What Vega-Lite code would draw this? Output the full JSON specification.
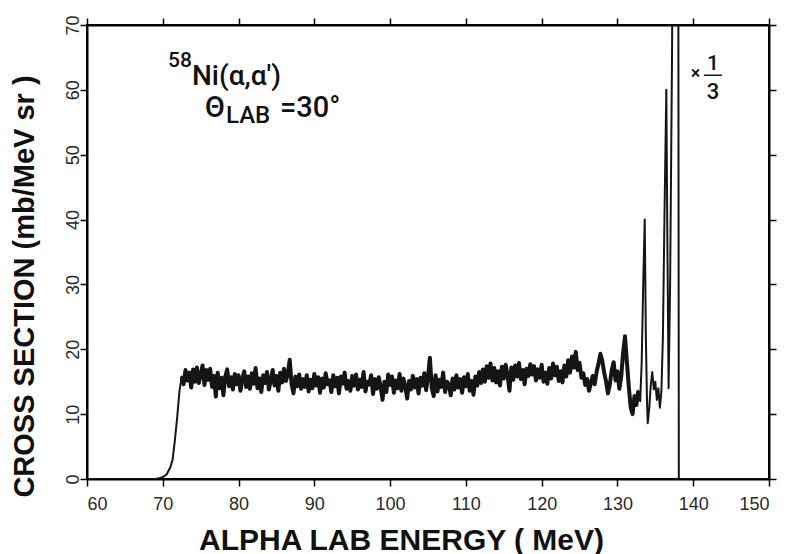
{
  "$schema": "https://vega.github.io/schema/vega-lite/v6.json",
  "width": 682,
  "height": 454,
  "autosize": {"type": "none"},
  "padding": {"left": 87, "top": 25, "right": 26, "bottom": 75},
  "background": "white",
  "config": {
    "view": {"stroke": "black", "strokeWidth": 2},
    "axis": {
      "domainColor": "black", "domainWidth": 2,
      "tickColor": "black", "tickWidth": 1.5, "tickSize": 7,
      "labelFont": "Liberation Sans", "labelFontSize": 18, "labelColor": "#2a2a2a",
      "titleFont": "Liberation Sans", "titleFontWeight": "bold", "titleColor": "#111",
      "grid": false
    },
    "text": {"fontWeight": 500, "font": "Roboto", "color": "#111111"}
  },
  "datasets": {
    "spectrum": [
    {"energy": 60.0, "sigma": 0}, {"energy": 66.0, "sigma": 0}, {"energy": 69.0, "sigma": 0},
    {"energy": 69.5, "sigma": 0.1}, {"energy": 70.0, "sigma": 0.3}, {"energy": 70.5, "sigma": 0.7},
    {"energy": 71.0, "sigma": 1.8}, {"energy": 71.3, "sigma": 3.0}, {"energy": 71.6, "sigma": 6.0},
    {"energy": 71.9, "sigma": 9.5}, {"energy": 72.2, "sigma": 13.5}, {"energy": 72.5, "sigma": 15.8},
    {"energy": 72.75, "sigma": 14.6}, {"energy": 73.0, "sigma": 16.8}, {"energy": 73.25, "sigma": 15.2},
    {"energy": 73.5, "sigma": 16.4}, {"energy": 73.75, "sigma": 14.1}, {"energy": 74.0, "sigma": 16.9},
    {"energy": 74.25, "sigma": 15.0}, {"energy": 74.5, "sigma": 17.2}, {"energy": 74.75, "sigma": 14.8},
    {"energy": 75.0, "sigma": 16.1}, {"energy": 75.25, "sigma": 17.5}, {"energy": 75.5, "sigma": 14.5},
    {"energy": 75.75, "sigma": 16.8}, {"energy": 76.0, "sigma": 15.3}, {"energy": 76.25, "sigma": 17.0},
    {"energy": 76.5, "sigma": 14.2}, {"energy": 76.75, "sigma": 15.9}, {"energy": 77.0, "sigma": 12.7},
    {"energy": 77.25, "sigma": 16.4}, {"energy": 77.5, "sigma": 14.0}, {"energy": 77.75, "sigma": 15.6},
    {"energy": 78.0, "sigma": 12.9}, {"energy": 78.25, "sigma": 15.8}, {"energy": 78.5, "sigma": 16.9},
    {"energy": 78.75, "sigma": 14.3}, {"energy": 79.0, "sigma": 15.7}, {"energy": 79.25, "sigma": 13.8},
    {"energy": 79.5, "sigma": 16.2}, {"energy": 79.75, "sigma": 14.6}, {"energy": 80.0, "sigma": 16.0},
    {"energy": 80.25, "sigma": 13.6}, {"energy": 80.5, "sigma": 15.4}, {"energy": 80.75, "sigma": 16.6},
    {"energy": 81.0, "sigma": 14.2}, {"energy": 81.25, "sigma": 15.8}, {"energy": 81.5, "sigma": 13.9},
    {"energy": 81.75, "sigma": 16.3}, {"energy": 82.0, "sigma": 14.7}, {"energy": 82.25, "sigma": 17.1},
    {"energy": 82.5, "sigma": 14.0}, {"energy": 82.75, "sigma": 15.5}, {"energy": 83.0, "sigma": 13.4},
    {"energy": 83.25, "sigma": 16.0}, {"energy": 83.5, "sigma": 14.8}, {"energy": 83.75, "sigma": 16.5},
    {"energy": 84.0, "sigma": 13.8}, {"energy": 84.25, "sigma": 15.2}, {"energy": 84.5, "sigma": 16.8},
    {"energy": 84.75, "sigma": 14.4}, {"energy": 85.0, "sigma": 15.9}, {"energy": 85.25, "sigma": 13.6},
    {"energy": 85.5, "sigma": 16.4}, {"energy": 85.75, "sigma": 14.9}, {"energy": 86.0, "sigma": 17.0},
    {"energy": 86.25, "sigma": 15.1}, {"energy": 86.5, "sigma": 16.2}, {"energy": 86.75, "sigma": 18.4},
    {"energy": 87.0, "sigma": 14.6}, {"energy": 87.25, "sigma": 13.2}, {"energy": 87.5, "sigma": 15.8},
    {"energy": 87.75, "sigma": 14.3}, {"energy": 88.0, "sigma": 16.1}, {"energy": 88.25, "sigma": 13.9},
    {"energy": 88.5, "sigma": 15.4}, {"energy": 88.75, "sigma": 14.2}, {"energy": 89.0, "sigma": 16.0},
    {"energy": 89.25, "sigma": 13.5}, {"energy": 89.5, "sigma": 15.3}, {"energy": 89.75, "sigma": 14.0},
    {"energy": 90.0, "sigma": 16.2}, {"energy": 90.25, "sigma": 14.4}, {"energy": 90.5, "sigma": 15.7},
    {"energy": 90.75, "sigma": 13.3}, {"energy": 91.0, "sigma": 15.5}, {"energy": 91.25, "sigma": 14.1},
    {"energy": 91.5, "sigma": 16.3}, {"energy": 91.75, "sigma": 14.6}, {"energy": 92.0, "sigma": 15.2},
    {"energy": 92.25, "sigma": 13.4}, {"energy": 92.5, "sigma": 16.0}, {"energy": 92.75, "sigma": 14.3},
    {"energy": 93.0, "sigma": 15.6}, {"energy": 93.25, "sigma": 13.2}, {"energy": 93.5, "sigma": 15.8},
    {"energy": 93.75, "sigma": 14.7}, {"energy": 94.0, "sigma": 16.4}, {"energy": 94.25, "sigma": 13.9},
    {"energy": 94.5, "sigma": 15.1}, {"energy": 94.75, "sigma": 13.6}, {"energy": 95.0, "sigma": 15.9},
    {"energy": 95.25, "sigma": 14.4}, {"energy": 95.5, "sigma": 16.1}, {"energy": 95.75, "sigma": 13.8},
    {"energy": 96.0, "sigma": 15.3}, {"energy": 96.25, "sigma": 14.2}, {"energy": 96.5, "sigma": 16.5},
    {"energy": 96.75, "sigma": 13.5}, {"energy": 97.0, "sigma": 15.0}, {"energy": 97.25, "sigma": 14.6},
    {"energy": 97.5, "sigma": 16.0}, {"energy": 97.75, "sigma": 13.1}, {"energy": 98.0, "sigma": 15.4},
    {"energy": 98.25, "sigma": 13.9}, {"energy": 98.5, "sigma": 15.7}, {"energy": 98.75, "sigma": 14.2},
    {"energy": 99.0, "sigma": 12.2}, {"energy": 99.25, "sigma": 15.0}, {"energy": 99.5, "sigma": 13.4},
    {"energy": 99.75, "sigma": 16.1}, {"energy": 100.0, "sigma": 14.5}, {"energy": 100.25, "sigma": 15.8},
    {"energy": 100.5, "sigma": 13.3}, {"energy": 100.75, "sigma": 15.2}, {"energy": 101.0, "sigma": 14.0},
    {"energy": 101.25, "sigma": 16.2}, {"energy": 101.5, "sigma": 13.6}, {"energy": 101.75, "sigma": 15.5},
    {"energy": 102.0, "sigma": 14.3}, {"energy": 102.25, "sigma": 12.4}, {"energy": 102.5, "sigma": 15.1},
    {"energy": 102.75, "sigma": 13.8}, {"energy": 103.0, "sigma": 15.9}, {"energy": 103.25, "sigma": 14.1},
    {"energy": 103.5, "sigma": 15.4}, {"energy": 103.75, "sigma": 13.2}, {"energy": 104.0, "sigma": 15.6},
    {"energy": 104.25, "sigma": 14.4}, {"energy": 104.5, "sigma": 16.3}, {"energy": 104.75, "sigma": 13.7},
    {"energy": 105.0, "sigma": 15.8}, {"energy": 105.25, "sigma": 18.7}, {"energy": 105.5, "sigma": 14.0},
    {"energy": 105.75, "sigma": 12.8}, {"energy": 106.0, "sigma": 16.0}, {"energy": 106.25, "sigma": 13.5},
    {"energy": 106.5, "sigma": 15.3}, {"energy": 106.75, "sigma": 14.2}, {"energy": 107.0, "sigma": 16.4},
    {"energy": 107.25, "sigma": 13.4}, {"energy": 107.5, "sigma": 15.0}, {"energy": 107.75, "sigma": 14.6},
    {"energy": 108.0, "sigma": 12.9}, {"energy": 108.25, "sigma": 15.5}, {"energy": 108.5, "sigma": 13.8},
    {"energy": 108.75, "sigma": 16.0}, {"energy": 109.0, "sigma": 14.1}, {"energy": 109.25, "sigma": 15.4},
    {"energy": 109.5, "sigma": 13.3}, {"energy": 109.75, "sigma": 15.7}, {"energy": 110.0, "sigma": 14.3},
    {"energy": 110.25, "sigma": 16.2}, {"energy": 110.5, "sigma": 13.6}, {"energy": 110.75, "sigma": 15.1},
    {"energy": 111.0, "sigma": 13.0}, {"energy": 111.25, "sigma": 15.8}, {"energy": 111.5, "sigma": 14.4},
    {"energy": 111.75, "sigma": 16.5}, {"energy": 112.0, "sigma": 14.8}, {"energy": 112.25, "sigma": 16.9},
    {"energy": 112.5, "sigma": 15.0}, {"energy": 112.75, "sigma": 17.4}, {"energy": 113.0, "sigma": 15.6},
    {"energy": 113.25, "sigma": 17.8}, {"energy": 113.5, "sigma": 15.2}, {"energy": 113.75, "sigma": 17.1},
    {"energy": 114.0, "sigma": 14.9}, {"energy": 114.25, "sigma": 16.6}, {"energy": 114.5, "sigma": 14.4},
    {"energy": 114.75, "sigma": 17.3}, {"energy": 115.0, "sigma": 15.5}, {"energy": 115.25, "sigma": 17.6},
    {"energy": 115.5, "sigma": 16.0}, {"energy": 115.75, "sigma": 13.6}, {"energy": 116.0, "sigma": 17.2},
    {"energy": 116.25, "sigma": 15.3}, {"energy": 116.5, "sigma": 17.5}, {"energy": 116.75, "sigma": 15.8},
    {"energy": 117.0, "sigma": 17.9}, {"energy": 117.25, "sigma": 15.4}, {"energy": 117.5, "sigma": 16.8},
    {"energy": 117.75, "sigma": 14.6}, {"energy": 118.0, "sigma": 17.0}, {"energy": 118.25, "sigma": 15.9},
    {"energy": 118.5, "sigma": 17.7}, {"energy": 118.75, "sigma": 16.1}, {"energy": 119.0, "sigma": 17.4},
    {"energy": 119.25, "sigma": 15.2}, {"energy": 119.5, "sigma": 16.9}, {"energy": 119.75, "sigma": 15.6},
    {"energy": 120.0, "sigma": 17.6}, {"energy": 120.25, "sigma": 15.0}, {"energy": 120.5, "sigma": 16.4},
    {"energy": 120.75, "sigma": 14.7}, {"energy": 121.0, "sigma": 17.1}, {"energy": 121.25, "sigma": 15.5},
    {"energy": 121.5, "sigma": 17.8}, {"energy": 121.75, "sigma": 16.0}, {"energy": 122.0, "sigma": 17.3},
    {"energy": 122.25, "sigma": 15.1}, {"energy": 122.5, "sigma": 16.6}, {"energy": 122.75, "sigma": 14.9},
    {"energy": 123.0, "sigma": 17.5}, {"energy": 123.25, "sigma": 15.8}, {"energy": 123.5, "sigma": 18.3},
    {"energy": 123.75, "sigma": 16.4}, {"energy": 124.0, "sigma": 18.9}, {"energy": 124.25, "sigma": 17.2},
    {"energy": 124.5, "sigma": 19.6}, {"energy": 124.75, "sigma": 16.8}, {"energy": 125.0, "sigma": 17.9},
    {"energy": 125.25, "sigma": 15.6}, {"energy": 125.5, "sigma": 16.3}, {"energy": 125.75, "sigma": 14.5},
    {"energy": 126.0, "sigma": 15.4}, {"energy": 126.25, "sigma": 13.6}, {"energy": 126.5, "sigma": 14.8},
    {"energy": 126.75, "sigma": 15.9}, {"energy": 127.0, "sigma": 14.6}, {"energy": 127.25, "sigma": 16.5},
    {"energy": 127.5, "sigma": 17.8}, {"energy": 127.75, "sigma": 19.3}, {"energy": 128.0, "sigma": 18.2},
    {"energy": 128.25, "sigma": 16.4}, {"energy": 128.5, "sigma": 15.0}, {"energy": 128.75, "sigma": 13.2},
    {"energy": 129.0, "sigma": 14.6}, {"energy": 129.25, "sigma": 16.8}, {"energy": 129.5, "sigma": 18.0},
    {"energy": 129.75, "sigma": 15.2}, {"energy": 130.0, "sigma": 16.6}, {"energy": 130.25, "sigma": 13.9},
    {"energy": 130.5, "sigma": 15.8}, {"energy": 130.75, "sigma": 19.5}, {"energy": 131.0, "sigma": 22.0},
    {"energy": 131.25, "sigma": 18.0}, {"energy": 131.5, "sigma": 14.2}, {"energy": 131.75, "sigma": 11.0},
    {"energy": 132.0, "sigma": 10.0}, {"energy": 132.25, "sigma": 12.8}, {"energy": 132.5, "sigma": 11.4},
    {"energy": 132.75, "sigma": 13.6}, {"energy": 133.0, "sigma": 12.0}, {"energy": 133.2, "sigma": 18.0},
    {"energy": 133.4, "sigma": 30.0}, {"energy": 133.6, "sigma": 40.0}, {"energy": 133.75, "sigma": 22.0},
    {"energy": 133.9, "sigma": 12.0}, {"energy": 134.0, "sigma": 8.6}, {"energy": 134.2, "sigma": 11.0},
    {"energy": 134.4, "sigma": 14.5}, {"energy": 134.6, "sigma": 16.5}, {"energy": 134.8, "sigma": 13.8},
    {"energy": 135.0, "sigma": 15.0}, {"energy": 135.2, "sigma": 12.2}, {"energy": 135.4, "sigma": 14.0},
    {"energy": 135.6, "sigma": 11.0}, {"energy": 135.8, "sigma": 13.5}, {"energy": 136.0, "sigma": 22.0},
    {"energy": 136.2, "sigma": 40.0}, {"energy": 136.45, "sigma": 60.0}, {"energy": 136.6, "sigma": 35.0},
    {"energy": 136.75, "sigma": 14.0}, {"energy": 136.95, "sigma": 30.0}, {"energy": 137.2, "sigma": 65.0},
    {"energy": 137.5, "sigma": 120.0}, {"energy": 138.0, "sigma": 120.0}, {"energy": 138.1, "sigma": 0},
    {"energy": 139.0, "sigma": 0}, {"energy": 150.0, "sigma": 0}
    ],
    "one": [{}]
  },
  "data": {"name": "spectrum"},
  "layer": [
    {
      "transform": [{"filter": "datum.energy >= 72.5 && datum.energy <= 132.75"}],
      "mark": {"type": "line", "color": "#151515", "strokeWidth": 4, "strokeJoin": "round", "clip": true},
      "encoding": {
        "x": {"field": "energy", "type": "quantitative",
              "scale": {"domain": [60, 150], "nice": false, "zero": false},
              "axis": {"orient": "bottom", "values": [60,70,80,90,100,110,120,130,140,150],
                       "title": "ALPHA LAB ENERGY ( MeV)", "titleFontSize": 30,
                       "labelPadding": 9, "titleX": 314, "titleY": 70, "titleBaseline": "alphabetic"}},
        "y": {"field": "sigma", "type": "quantitative",
              "scale": {"domain": [0, 70], "nice": false},
              "axis": {"orient": "left", "values": [0,10,20,30,40,50,60,70], "labelAngle": 270,
                       "labelAlign": "center", "labelBaseline": "alphabetic", "labelPadding": 2,
                       "title": "CROSS SECTION (mb/MeV sr )", "titleFontSize": 29,
                       "titleX": -54, "titleY": 261, "titleAngle": 270, "titleBaseline": "alphabetic", "titleAlign": "center",
                       "grid": true, "gridColor": "#bbbbbb", "gridDash": [1, 9], "gridOpacity": 0.35, "gridWidth": 1}}
      }
    },
    {
      "mark": {"type": "line", "color": "#151515", "strokeWidth": 2, "strokeJoin": "round", "clip": true},
      "encoding": {
        "x": {"field": "energy", "type": "quantitative",
              "axis": {"orient": "top", "values": [60,70,80,90,100,110,120,130,140,150], "labels": false, "title": null}},
        "y": {"field": "sigma", "type": "quantitative",
              "axis": {"orient": "right", "values": [0,10,20,30,40,50,60,70], "labels": false, "title": null}}
      }
    },
    {
      "data": {"name": "one"},
      "mark": {"type": "text", "text": "58", "fontSize": 21, "align": "left", "baseline": "alphabetic"},
      "encoding": {"x": {"datum": 70.69, "type": "quantitative", "axis": null}, "y": {"datum": 63.48, "type": "quantitative", "axis": null}}
    },
    {
      "data": {"name": "one"},
      "mark": {"type": "text", "text": "Ni(α,α')", "fontSize": 28, "align": "left", "baseline": "alphabetic"},
      "encoding": {"x": {"datum": 73.85, "type": "quantitative", "axis": null}, "y": {"datum": 60.71, "type": "quantitative", "axis": null}}
    },
    {
      "data": {"name": "one"},
      "mark": {"type": "text", "text": "Θ", "fontSize": 29, "align": "left", "baseline": "alphabetic"},
      "encoding": {"x": {"datum": 75.57, "type": "quantitative", "axis": null}, "y": {"datum": 55.78, "type": "quantitative", "axis": null}}
    },
    {
      "data": {"name": "one"},
      "mark": {"type": "text", "text": "LAB", "fontSize": 24, "align": "left", "baseline": "alphabetic"},
      "encoding": {"x": {"datum": 78.34, "type": "quantitative", "axis": null}, "y": {"datum": 54.85, "type": "quantitative", "axis": null}}
    },
    {
      "data": {"name": "one"},
      "mark": {"type": "text", "text": "=30°", "fontSize": 29, "align": "left", "baseline": "alphabetic"},
      "encoding": {"x": {"datum": 85.46, "type": "quantitative", "axis": null}, "y": {"datum": 55.78, "type": "quantitative", "axis": null}}
    },
    {
      "data": {"name": "one"},
      "mark": {"type": "text", "text": "×", "fontSize": 18, "align": "center", "baseline": "middle"},
      "encoding": {"x": {"datum": 140.3, "type": "quantitative", "axis": null}, "y": {"datum": 62.5, "type": "quantitative", "axis": null}}
    },
    {
      "data": {"name": "one"},
      "mark": {"type": "text", "text": "1", "fontSize": 21, "align": "center", "baseline": "alphabetic"},
      "encoding": {"x": {"datum": 142.6, "type": "quantitative", "axis": null}, "y": {"datum": 63.0, "type": "quantitative", "axis": null}}
    },
    {
      "data": {"name": "one"},
      "mark": {"type": "rule", "color": "#111", "strokeWidth": 1.5},
      "encoding": {"x": {"datum": 141.4, "type": "quantitative", "axis": null}, "x2": {"datum": 143.8}, "y": {"datum": 62.25, "type": "quantitative", "axis": null}}
    },
    {
      "data": {"name": "one"},
      "mark": {"type": "text", "text": "3", "fontSize": 22, "align": "center", "baseline": "alphabetic"},
      "encoding": {"x": {"datum": 142.6, "type": "quantitative", "axis": null}, "y": {"datum": 58.6, "type": "quantitative", "axis": null}}
    }
  ]
}
